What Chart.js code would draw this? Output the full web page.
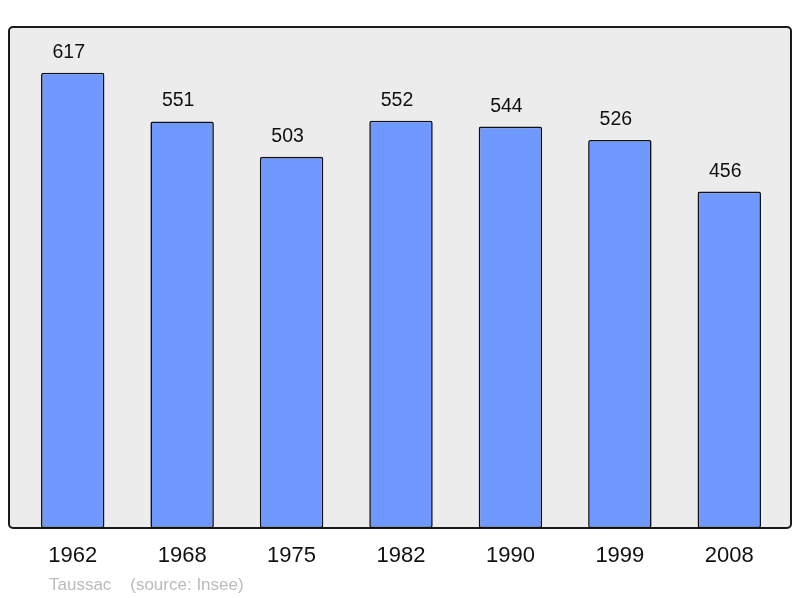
<!DOCTYPE html>
<html>
<head>
<meta charset="utf-8">
<script src="https://cdn.jsdelivr.net/npm/chart.js@4/dist/chart.umd.min.js"></script>
<style>
  html, body { margin: 0; padding: 0; background: #ffffff; }
  #wrap { width: 800px; height: 598px; }
</style>
</head>
<body>
<div id="wrap"><canvas id="c" width="800" height="598"></canvas></div>
<script>
const years = ["1962", "1968", "1975", "1982", "1990", "1999", "2008"];
const population = [617, 551, 503, 552, 544, 526, 456];
const footerText = "Taussac    (source: Insee)";

const FONT = "'Liberation Sans', Arial, sans-serif";

const framePlugin = {
  id: 'frame',
  beforeDatasetsDraw(chart) {
    const { ctx, chartArea: a } = chart;
    ctx.save();
    const x = a.left - 9, y = a.top, w = (a.right + 7) - x, h = a.bottom - a.top;
    ctx.beginPath();
    ctx.roundRect(x, y, w, h, 4);
    ctx.fillStyle = '#ececec';
    ctx.fill();
    ctx.lineWidth = 2;
    ctx.strokeStyle = '#1a1a1a';
    ctx.stroke();
    ctx.restore();
  },
  afterDatasetsDraw(chart) {
    const { ctx } = chart;
    const meta = chart.getDatasetMeta(0);
    ctx.save();
    ctx.font = "19.5px " + FONT;
    ctx.fillStyle = '#111';
    ctx.textAlign = 'center';
    ctx.textBaseline = 'alphabetic';
    meta.data.forEach((bar, i) => {
      ctx.fillText(String(population[i]), bar.x - 4, bar.y - 15);
    });
    ctx.font = "17px " + FONT;
    ctx.fillStyle = '#bbbbbb';
    ctx.textAlign = 'left';
    ctx.fillText(footerText, 49, 590);
    ctx.restore();
  }
};

new Chart(document.getElementById('c'), {
  type: 'bar',
  data: {
    labels: years,
    datasets: [{
      data: population,
      backgroundColor: '#7099ff',
      borderColor: '#111',
      borderWidth: 1.6,
      borderRadius: 2,
      borderSkipped: false,
      categoryPercentage: 1.0,
      barPercentage: 0.58
    }]
  },
  options: {
    responsive: false,
    animation: false,
    devicePixelRatio: 1,
    layout: { padding: { left: 18, right: 16, top: 27, bottom: 0 } },
    plugins: { legend: { display: false }, tooltip: { enabled: false }, title: { display: false } },
    scales: {
      x: {
        grid: { display: false, drawTicks: false },
        border: { display: false },
        ticks: { color: '#111', font: { size: 22, family: FONT }, padding: 15 },
        afterFit(scale) { scale.height = 70; }
      },
      y: {
        display: false,
        min: 0,
        max: 679
      }
    }
  },
  plugins: [framePlugin]
});
</script>
</body>
</html>
